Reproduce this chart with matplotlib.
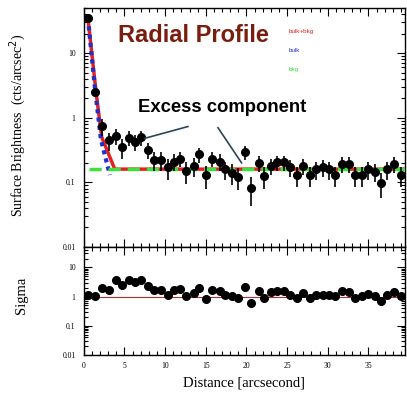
import matplotlib
matplotlib.use("Agg")
import matplotlib.pyplot as plt
from matplotlib.ticker import LogLocator, FixedLocator, MultipleLocator, FuncFormatter, NullFormatter

# radial bins (arcsec)
radius = [0.5, 1.4, 2.2, 3.05, 3.9, 4.7, 5.5, 6.25, 7.0, 7.9,
          8.6, 9.5, 10.3, 11.1, 11.85, 12.6, 13.5, 14.2, 15.0, 15.8,
          16.7, 17.4, 18.2, 19.0, 19.8, 20.6, 21.5, 22.2, 23.05, 23.8,
          24.65, 25.4, 26.2, 27.0, 27.8, 28.6, 29.4, 30.2, 30.95, 31.8,
          32.6, 33.4, 34.2, 35.0, 35.8, 36.6, 37.3, 38.1, 39.0]

# surface brightness (cts/arcsec^2)
brightness = [35, 2.5, 0.75, 0.45, 0.53, 0.35, 0.49, 0.42, 0.50, 0.32,
              0.22, 0.22, 0.17, 0.21, 0.23, 0.15, 0.18, 0.27, 0.13, 0.23,
              0.21, 0.16, 0.14, 0.12, 0.29, 0.083, 0.20, 0.125, 0.18, 0.205,
              0.205, 0.17, 0.13, 0.18, 0.13, 0.16, 0.17, 0.16, 0.13, 0.195,
              0.195, 0.13, 0.13, 0.16, 0.145, 0.097, 0.16, 0.195, 0.13]

brightness_err = [3, 0.4, 0.22, 0.14, 0.15, 0.12, 0.13, 0.12, 0.13, 0.09,
                  0.07, 0.07, 0.06, 0.06, 0.06, 0.055, 0.06, 0.07, 0.05, 0.06,
                  0.06, 0.05, 0.05, 0.045, 0.07, 0.04, 0.055, 0.045, 0.05, 0.055,
                  0.055, 0.05, 0.045, 0.05, 0.045, 0.05, 0.05, 0.05, 0.045, 0.055,
                  0.055, 0.045, 0.045, 0.05, 0.045, 0.04, 0.05, 0.055, 0.045]

# residuals (sigma)
sigma = [1.17, 1.08, 1.97, 1.72, 3.8, 2.55, 3.8, 3.15, 3.8, 2.36,
         1.64, 1.64, 1.17, 1.64, 1.82, 1.08, 1.33, 1.97, 0.83, 1.72,
         1.51, 1.17, 1.02, 0.86, 2.13, 0.58, 1.51, 0.90, 1.40, 1.51,
         1.51, 1.17, 0.90, 1.33, 0.90, 1.17, 1.17, 1.17, 1.02, 1.51,
         1.40, 0.90, 1.02, 1.25, 1.08, 0.73, 1.17, 1.45, 1.02]

# model curves
model_r = [0.5, 1.5, 2.2, 3.8, 39.5]
model_total = [35, 2.5, 0.5, 0.16, 0.16]
bulk_r = [0.5, 1.35, 2.1, 3.2]
bulk_y = [35, 3.0, 0.46, 0.13]
bkg_r = [0.6, 39.5]
bkg_y = [0.16, 0.16]

serif = "Liberation Serif"
sans = "Liberation Sans"

fig = plt.figure(figsize=(4.07, 3.97), dpi=100)
ax1 = fig.add_axes([0.206, 0.378, 0.789, 0.602])
ax2 = fig.add_axes([0.206, 0.106, 0.789, 0.272], sharex=ax1)

# top panel
ax1.errorbar(radius, brightness, yerr=brightness_err, fmt="o", color="black",
             ms=5.5, elinewidth=1.2, capsize=0, zorder=5)
ax1.plot(model_r, model_total, color="#e62020", lw=2.5, zorder=3)
ax1.plot(bulk_r, bulk_y, color="#2030c8", lw=3, ls=(0, (1, 1)), zorder=4)
ax1.plot(bkg_r, bkg_y, color="#3ee03e", lw=2.5, ls=(0, (3.5, 2)), zorder=4)

ax1.text(0.34, 0.883, "Radial Profile", transform=ax1.transAxes, ha="center", va="center",
         fontsize=17, fontweight="bold", color="#7a1c0e", family=sans)
ax1.text(0.431, 0.582, "Excess component", transform=ax1.transAxes, ha="center", va="center",
         fontsize=13.3, fontweight="bold", color="black", family=sans)
ax1.plot([12.8, 7.5], [0.73, 0.48], color="#2b4756", lw=1.2, zorder=6)
ax1.plot([16.5, 19.4], [0.70, 0.20], color="#2b4756", lw=1.2, zorder=6)

ax1.text(0.639, 0.90, "bulk+bkg", transform=ax1.transAxes, fontsize=4.5, color="#e62020",
         va="center", family=sans)
ax1.text(0.639, 0.82, "bulk", transform=ax1.transAxes, fontsize=4.5, color="#2030c8",
         va="center", family=sans)
ax1.text(0.639, 0.741, "bkg", transform=ax1.transAxes, fontsize=4.5, color="#3ee03e",
         va="center", family=sans)

ax1.set_yscale("log")
ax1.set_ylim(0.01, 50)
ax1.set_ylabel("Surface Brightness  (cts/arcsec$^2$)", family=serif, fontsize=10)
ax1.yaxis.set_label_coords(-0.175, 0.51)

# bottom panel
ax2.axhline(1, color="#b03030", lw=0.8, zorder=2)
ax2.plot(radius, sigma, "o", color="black", ms=5.5, zorder=5)
ax2.set_yscale("log")
ax2.set_ylim(0.01, 50)
ax2.set_ylabel("Sigma", family=serif, fontsize=10.5)
ax2.yaxis.set_label_coords(-0.175, 0.55)
ax2.set_xlabel("Distance [arcsecond]", family=serif, fontsize=10.5, labelpad=5)

ax1.set_xlim(0, 39.5)
fmt = FuncFormatter(lambda v, p: "%g" % v)
for ax in (ax1, ax2):
    ax.xaxis.set_major_locator(MultipleLocator(5))
    ax.xaxis.set_minor_locator(MultipleLocator(1))
    ax.yaxis.set_major_locator(FixedLocator([0.01, 0.1, 1, 10]))
    ax.yaxis.set_minor_locator(LogLocator(base=10, subs=range(2, 10)))
    ax.yaxis.set_major_formatter(fmt)
    ax.yaxis.set_minor_formatter(NullFormatter())
    ax.tick_params(which="both", direction="in", top=True, right=True, width=0.8)
    ax.tick_params(which="major", length=6, labelsize=5.5, pad=6)
    ax.tick_params(which="minor", length=3)
    for lab in ax.get_yticklabels() + ax.get_xticklabels():
        lab.set_family(serif)
    for s in ax.spines.values():
        s.set_linewidth(1)

ax1.tick_params(axis="x", labelbottom=False)
ax2.xaxis.set_major_formatter(fmt)
ax2.tick_params(axis="x", pad=5)
for lab in ax2.get_xticklabels():
    lab.set_family(serif)

fig.savefig("out.png", dpi=100)
